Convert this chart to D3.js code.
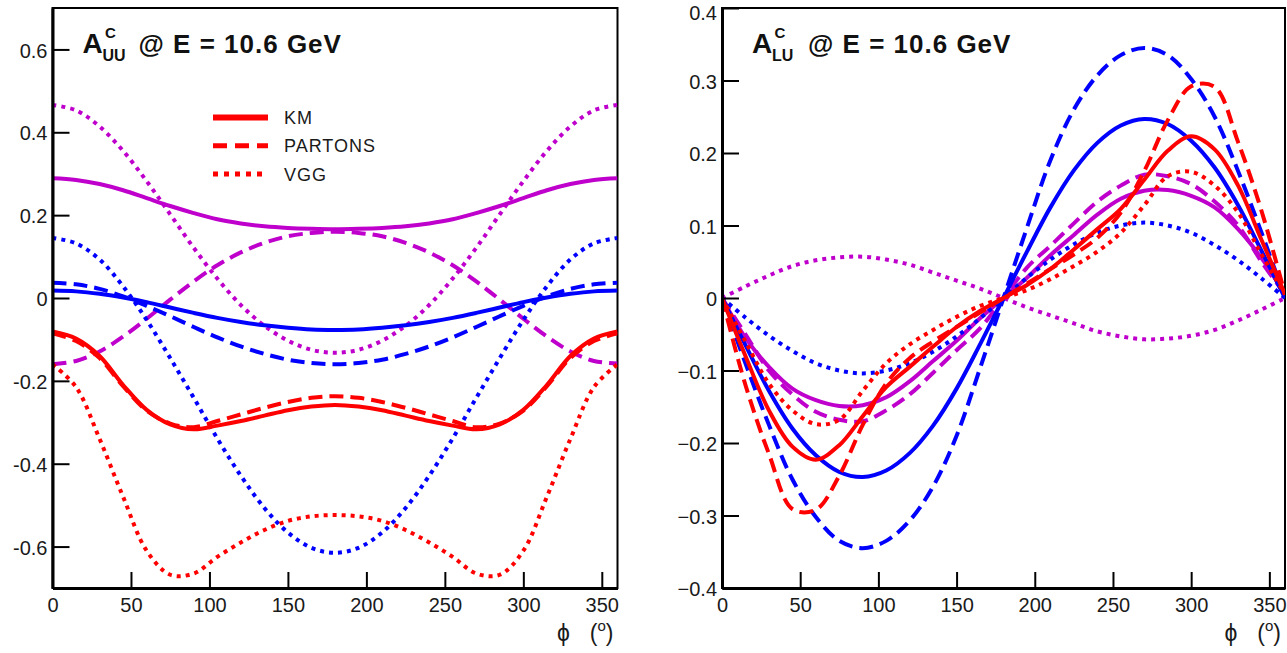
<!DOCTYPE html>
<html lang="en">
  <head>
    <meta charset="UTF-8" />
    <title>Beam-charge asymmetries at E = 10.6 GeV</title>
    <script src="https://d3js.org/d3.v7.min.js"></script>
    <style>
      body {
        margin: 0;
        background: #ffffff;
        font-family: "Liberation Sans", Arial, sans-serif;
      }
      .tick text {
        font-size: 20px;
        fill: #1a1a1a;
        font-family: "Liberation Sans", Arial, sans-serif;
      }
      .tick line {
        stroke: #000;
        stroke-width: 2px;
      }
      .domain {
        stroke: #000;
        stroke-width: 3px;
      }
      .title {
        font-weight: bold;
        fill: #111;
      }
      .legend text {
        font-size: 18px;
        fill: #1a1a1a;
        letter-spacing: 1px;
      }
      .axis-title {
        font-size: 23px;
        fill: #1a1a1a;
      }
    </style>
  </head>
  <body>
    <svg id="chart" width="1287" height="653"></svg>
    <script>
      // phi grid (degrees) shared by all curves
      let phi = [0, 15, 30, 45, 60, 75, 90, 105, 120, 135, 150, 165, 180,
                 195, 210, 225, 240, 255, 270, 285, 300, 315, 330, 345, 360];

      // left panel: A_UU^C
      let uuRedKM = [-0.081, -0.098, -0.140, -0.210, -0.270, -0.305, -0.317, -0.308, -0.297, -0.284, -0.271, -0.262, -0.258,
                     -0.262, -0.271, -0.284, -0.297, -0.308, -0.317, -0.305, -0.270, -0.210, -0.140, -0.098, -0.081];
      let uuRedPARTONS = [-0.085, -0.104, -0.145, -0.213, -0.272, -0.303, -0.312, -0.297, -0.281, -0.265, -0.251, -0.241, -0.237,
                          -0.241, -0.251, -0.265, -0.281, -0.297, -0.312, -0.303, -0.272, -0.213, -0.145, -0.104, -0.085];
      let uuRedVGG = [-0.160, -0.215, -0.340, -0.480, -0.610, -0.668, -0.665, -0.625, -0.590, -0.560, -0.538, -0.527, -0.524,
                      -0.527, -0.538, -0.560, -0.590, -0.625, -0.665, -0.668, -0.610, -0.480, -0.340, -0.215, -0.160];
      let uuBlueKM = [0.018, 0.016, 0.010, 0.001, -0.010, -0.023, -0.036, -0.048, -0.058, -0.066, -0.072, -0.076, -0.077,
                      -0.076, -0.072, -0.066, -0.058, -0.048, -0.036, -0.023, -0.010, 0.001, 0.010, 0.016, 0.018];
      let uuBluePARTONS = [0.037, 0.033, 0.022, 0.004, -0.019, -0.044, -0.070, -0.095, -0.117, -0.135, -0.149, -0.157, -0.160,
                           -0.157, -0.149, -0.135, -0.117, -0.095, -0.070, -0.044, -0.019, 0.004, 0.022, 0.033, 0.037];
      let uuBlueVGG = [0.145, 0.132, 0.093, 0.028, -0.053, -0.145, -0.241, -0.339, -0.429, -0.507, -0.566, -0.603, -0.615,
                       -0.603, -0.566, -0.507, -0.429, -0.339, -0.241, -0.145, -0.053, 0.028, 0.093, 0.132, 0.145];
      let uuMagKM = [0.289, 0.285, 0.275, 0.260, 0.241, 0.222, 0.205, 0.190, 0.180, 0.173, 0.169, 0.167, 0.166,
                     0.167, 0.169, 0.173, 0.180, 0.190, 0.205, 0.222, 0.241, 0.260, 0.275, 0.285, 0.289];
      let uuMagPARTONS = [-0.160, -0.152, -0.129, -0.093, -0.050, -0.004, 0.040, 0.079, 0.110, 0.133, 0.149, 0.157, 0.160,
                          0.157, 0.149, 0.133, 0.110, 0.079, 0.040, -0.004, -0.050, -0.093, -0.129, -0.152, -0.158];
      let uuMagVGG = [0.466, 0.453, 0.414, 0.355, 0.282, 0.202, 0.121, 0.047, -0.017, -0.067, -0.103, -0.125, -0.132,
                      -0.125, -0.103, -0.067, -0.017, 0.047, 0.121, 0.202, 0.282, 0.355, 0.414, 0.453, 0.466];

      // right panel: A_LU^C
      let luRedKM = [0, -0.080, -0.155, -0.205, -0.223, -0.203, -0.163, -0.123, -0.095, -0.067, -0.040, -0.018, 0,
                     0.018, 0.040, 0.067, 0.095, 0.123, 0.163, 0.203, 0.223, 0.205, 0.155, 0.080, 0.005];
      let luRedPARTONS = [0, -0.120, -0.215, -0.291, -0.292, -0.245, -0.175, -0.118, -0.083, -0.060, -0.040, -0.020, 0,
                          0.020, 0.040, 0.060, 0.083, 0.118, 0.175, 0.245, 0.292, 0.291, 0.215, 0.120, 0.005];
      let luRedVGG = [0, -0.060, -0.118, -0.155, -0.174, -0.168, -0.128, -0.090, -0.064, -0.044, -0.026, -0.011, 0,
                      0.011, 0.026, 0.044, 0.064, 0.090, 0.128, 0.168, 0.174, 0.155, 0.118, 0.060, 0.005];
      let luBlueKM = [0, -0.065, -0.128, -0.180, -0.217, -0.240, -0.247, -0.238, -0.214, -0.176, -0.125, -0.064, 0,
                      0.064, 0.125, 0.176, 0.214, 0.238, 0.247, 0.240, 0.217, 0.180, 0.128, 0.065, 0];
      let luBluePARTONS = [0, -0.090, -0.175, -0.250, -0.302, -0.335, -0.345, -0.335, -0.307, -0.260, -0.190, -0.097, 0,
                           0.097, 0.190, 0.260, 0.307, 0.335, 0.345, 0.335, 0.302, 0.250, 0.175, 0.090, 0];
      let luBlueVGG = [0, -0.027, -0.052, -0.073, -0.090, -0.100, -0.104, -0.100, -0.090, -0.074, -0.053, -0.028, 0,
                       0.028, 0.053, 0.074, 0.090, 0.100, 0.104, 0.100, 0.090, 0.073, 0.052, 0.027, 0];
      let luMagKM = [0, -0.055, -0.095, -0.125, -0.141, -0.149, -0.148, -0.137, -0.115, -0.087, -0.059, -0.028, 0,
                     0.028, 0.059, 0.087, 0.115, 0.137, 0.148, 0.149, 0.141, 0.125, 0.095, 0.055, 0.005];
      let luMagPARTONS = [0, -0.050, -0.100, -0.133, -0.157, -0.168, -0.170, -0.155, -0.133, -0.103, -0.072, -0.042, 0,
                          0.042, 0.072, 0.103, 0.133, 0.155, 0.170, 0.168, 0.157, 0.133, 0.100, 0.050, 0.005];
      let luMagVGG = [0, 0.016, 0.031, 0.044, 0.052, 0.056, 0.057, 0.053, 0.046, 0.035, 0.024, 0.013, 0,
                      -0.013, -0.024, -0.035, -0.046, -0.053, -0.057, -0.056, -0.052, -0.044, -0.031, -0.016, 0];

      // legend entries
      let models = ["KM", "PARTONS", "VGG"];

      let colors = { red: "#ff0000", blue: "#0000ff", mag: "#bf00cc" };
      let dashes = { KM: null, PARTONS: "14,7", VGG: "4,5" };

      let svg = d3.select("#chart");

      function drawPanel(p) {
        let x = d3.scaleLinear().domain([0, 360]).range([p.left, p.right]);
        let y = d3.scaleLinear().domain(p.yDomain).range([588, 8]);

        let clipId = "clip" + p.id;
        svg
          .append("clipPath")
          .attr("id", clipId)
          .append("rect")
          .attr("x", p.left)
          .attr("y", 8)
          .attr("width", p.right - p.left)
          .attr("height", 580);

        // frame
        svg
          .append("rect")
          .attr("x", p.left)
          .attr("y", 8)
          .attr("width", p.right - p.left)
          .attr("height", 580)
          .attr("fill", "none")
          .attr("stroke", "#000")
          .attr("stroke-width", 2);

        // curves
        let line = d3
          .line()
          .x((d) => x(d[0]))
          .y((d) => y(d[1]))
          .curve(d3.curveCatmullRom.alpha(0.5));
        let g = svg.append("g").attr("clip-path", `url(#${clipId})`);
        p.series.forEach(function (s) {
          g.append("path")
            .datum(phi.map((f, i) => [f, s.values[i]]))
            .attr("d", line)
            .attr("fill", "none")
            .attr("stroke", colors[s.color])
            .attr("stroke-width", 4)
            .attr("stroke-dasharray", dashes[s.model]);
        });

        // x axis
        let xMajor = d3.range(0, 351, 50);
        let xMinor = d3.range(10, 360, 10).filter((v) => v % 50 !== 0);
        let gx = svg.append("g").attr("transform", "translate(0,588)");
        gx.call(
          d3.axisBottom(x).tickValues(xMinor).tickSize(-8).tickSizeOuter(0).tickFormat("")
        );
        gx.call(
          d3.axisBottom(x).tickValues(xMajor).tickSize(-16).tickSizeOuter(0).tickPadding(10)
        );

        // y axis
        let gy = svg.append("g").attr("transform", `translate(${p.left},0)`);
        gy.call(
          d3.axisLeft(y).tickValues(p.yMinor).tickSize(-9).tickSizeOuter(0).tickFormat("")
        );
        gy.call(
          d3
            .axisLeft(y)
            .tickValues(p.yMajor)
            .tickSize(-17)
            .tickSizeOuter(0)
            .tickPadding(5)
            .tickFormat(p.yFormat)
        );
        // the label at the very top sits a little lower so it stays on the page
        gy.selectAll(".tick text").attr("dy", (d) => (y(d) < 12 ? "0.55em" : "0.38em"));

        // title  A^C_xx @ E = 10.6 GeV
        let t = svg.append("g").attr("class", "title");
        t.append("text")
          .attr("x", p.left + 30)
          .attr("y", 53)
          .attr("font-size", 28)
          .text("A");
        t.append("text")
          .attr("x", p.left + 52.5)
          .attr("y", 38)
          .attr("font-size", 15)
          .text("C");
        t.append("text")
          .attr("x", p.left + 50)
          .attr("y", 61)
          .attr("font-size", 16)
          .text(p.sub);
        t.append("text")
          .attr("x", p.left + 86)
          .attr("y", 53)
          .attr("font-size", 26)
          .attr("letter-spacing", 1)
          .text("@ E = 10.6 GeV");

        // axis title: phi (deg)
        svg
          .append("text")
          .attr("class", "axis-title")
          .attr("x", p.right - 54)
          .attr("y", 641)
          .attr("text-anchor", "middle")
          .text("\u03d5");
        let at = svg
          .append("text")
          .attr("class", "axis-title")
          .attr("x", p.right - 4)
          .attr("y", 641)
          .attr("text-anchor", "end");
        at.append("tspan").text("(");
        at.append("tspan").attr("font-size", 15).attr("dy", -10).text("o");
        at.append("tspan").attr("dy", 10).text(")");

        return { x, y };
      }

      let fmtLeft = (d) => (Math.abs(d) < 1e-9 ? "0" : d3.format(".1f")(d).replace("\u2212", "-"));
      let fmtRight = (d) => (Math.abs(d) < 1e-9 ? "0" : d3.format(".1f")(d));

      let yMajorL = [-0.6, -0.4, -0.2, 0, 0.2, 0.4, 0.6];
      let yMinorL = d3.range(-13, 14).filter((k) => k % 4 !== 0).map((k) => k * 0.05);
      let yMajorR = [-0.4, -0.3, -0.2, -0.1, 0, 0.1, 0.2, 0.3, 0.4];
      let yMinorR = d3.range(-19, 20).filter((k) => k % 5 !== 0).map((k) => k * 0.02);

      drawPanel({
        id: "L",
        left: 52.5,
        right: 617.5,
        yDomain: [-0.7, 0.7],
        yMajor: yMajorL,
        yMinor: yMinorL,
        yFormat: fmtLeft,
        sub: "UU",
        series: [
          { model: "KM", color: "mag", values: uuMagKM },
          { model: "PARTONS", color: "mag", values: uuMagPARTONS },
          { model: "VGG", color: "mag", values: uuMagVGG },
          { model: "KM", color: "blue", values: uuBlueKM },
          { model: "PARTONS", color: "blue", values: uuBluePARTONS },
          { model: "VGG", color: "blue", values: uuBlueVGG },
          { model: "PARTONS", color: "red", values: uuRedPARTONS },
          { model: "KM", color: "red", values: uuRedKM },
          { model: "VGG", color: "red", values: uuRedVGG },
        ],
      });

      drawPanel({
        id: "R",
        left: 722,
        right: 1285,
        yDomain: [-0.4, 0.4],
        yMajor: yMajorR,
        yMinor: yMinorR,
        yFormat: fmtRight,
        sub: "LU",
        series: [
          { model: "VGG", color: "mag", values: luMagVGG },
          { model: "PARTONS", color: "mag", values: luMagPARTONS },
          { model: "KM", color: "mag", values: luMagKM },
          { model: "VGG", color: "blue", values: luBlueVGG },
          { model: "PARTONS", color: "blue", values: luBluePARTONS },
          { model: "KM", color: "blue", values: luBlueKM },
          { model: "VGG", color: "red", values: luRedVGG },
          { model: "PARTONS", color: "red", values: luRedPARTONS },
          { model: "KM", color: "red", values: luRedKM },
        ],
      });

      // legend (left panel)
      let legend = svg.append("g").attr("class", "legend");
      models.forEach(function (m, i) {
        let yy = 117.5 + i * 28.3;
        legend
          .append("line")
          .attr("x1", 213)
          .attr("x2", 268)
          .attr("y1", yy)
          .attr("y2", yy)
          .attr("stroke", colors.red)
          .attr("stroke-width", m === "KM" ? 6 : 5)
          .attr("stroke-dasharray", m === "PARTONS" ? "14,8" : m === "VGG" ? "5,6" : null);
        legend
          .append("text")
          .attr("x", 284)
          .attr("y", yy + 6.5)
          .text(m);
      });
    </script>
  </body>
</html>
